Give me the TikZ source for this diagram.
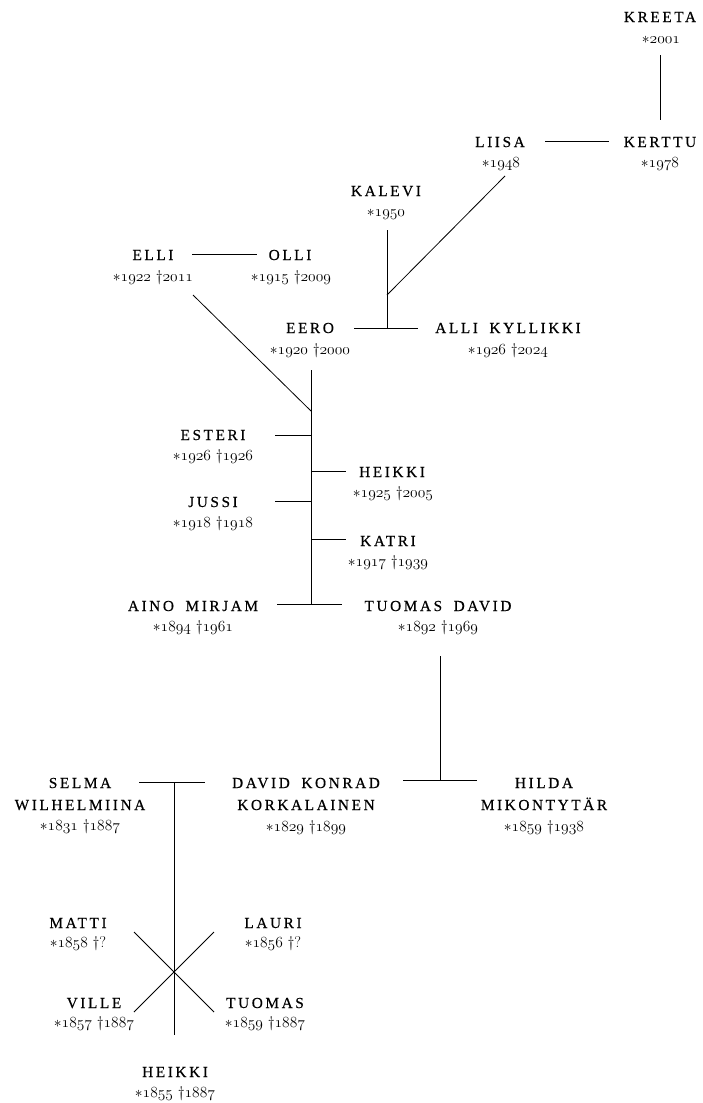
\RequirePackage{fix-cm}
\documentclass[tikz,border=0pt]{standalone}
\usepackage{fontspec}
\newfontfamily\namefam[LetterSpace=17, WordSpace=1.8, FakeBold=0.35]{Liberation Serif}
\newcommand\namefont{\namefam\fontsize{15.3}{18}\selectfont}
\newcommand\yearfont{\fontsize{15.5}{19}\selectfont}
\newcommand\yrs[2]{$\ast\mathnormal{#1}$\ \textdagger$\mathnormal{#2}$}
\newcommand\yrb[1]{$\ast\mathnormal{#1}$}
\newcommand\yrq[1]{$\ast\mathnormal{#1}$\ \textdagger?}
\tikzset{
  nm/.style={font=\namefont, inner sep=0pt, anchor=base},
  yr/.style={font=\yearfont, inner sep=0pt, anchor=base},
  ln/.style={line width=0.8pt, black}
}
\begin{document}
\begin{tikzpicture}[x=1pt,y=-1pt]
\useasboundingbox (0,0) rectangle (703,1103);
% persons
\node[nm] (kreeta) at (660,22) {KREETA};
\node[yr] (kreetay) at (661,43) {\yrb{2001}};
\node[nm] (liisa) at (500,147) {LIISA};
\node[yr] (liisay) at (501,167) {\yrb{1948}};
\node[nm] (kerttu) at (660,147) {KERTTU};
\node[yr] (kerttuy) at (660,167) {\yrb{1978}};
\node[nm] (kalevi) at (386,196) {KALEVI};
\node[yr] (kaleviy) at (386,216) {\yrb{1950}};
\node[nm] (elli) at (153,260) {ELLI};
\node[yr] (elliy) at (153,281) {\yrs{1922}{2011}};
\node[nm] (olli) at (290,260) {OLLI};
\node[yr] (olliy) at (291,281) {\yrs{1915}{2009}};
\node[nm] (eero) at (310,333) {EERO};
\node[yr] (eeroy) at (310,354) {\yrs{1920}{2000}};
\node[nm] (alli) at (508,333) {ALLI KYLLIKKI};
\node[yr] (alliy) at (508,354) {\yrs{1926}{2024}};
\node[nm] (esteri) at (213,440) {ESTERI};
\node[yr] (esteriy) at (213,460) {\yrs{1926}{1926}};
\node[nm] (heikki) at (392,477) {HEIKKI};
\node[yr] (heikkiy) at (393,497) {\yrs{1925}{2005}};
\node[nm] (jussi) at (213,507) {JUSSI};
\node[yr] (jussiy) at (213,527) {\yrs{1918}{1918}};
\node[nm] (katri) at (388,546) {KATRI};
\node[yr] (katriy) at (388,566) {\yrs{1917}{1939}};
\node[nm] (aino) at (193,611) {AINO MIRJAM};
\node[yr] (ainoy) at (193,631) {\yrs{1894}{1961}};
\node[nm] (tuomasd) at (438,611) {TUOMAS DAVID};
\node[yr] (tuomasdy) at (438,631) {\yrs{1892}{1969}};
\node[nm] (david) at (306,788) {DAVID KONRAD};
\node[nm] (david2) at (306,810) {KORKALAINEN};
\node[yr] (davidy) at (306,831) {\yrs{1829}{1899}};
\node[nm] (hilda) at (544,788) {HILDA};
\node[nm] (hilda2) at (544,810) {MIKONTYTÄR};
\node[yr] (hilday) at (544,831) {\yrs{1859}{1938}};
\node[nm] (selma) at (80,788) {SELMA};
\node[nm] (selma2) at (80,810) {WILHELMIINA};
\node[yr] (selmay) at (80,830) {\yrs{1831}{1887}};
\node[nm] (matti) at (78,928) {MATTI};
\node[yr] (mattiy) at (78,947) {\yrq{1858}};
\node[nm] (lauri) at (273,928) {LAURI};
\node[yr] (lauriy) at (273,947) {\yrq{1856}};
\node[nm] (ville) at (94,1008) {VILLE};
\node[yr] (villey) at (94,1027) {\yrs{1857}{1887}};
\node[nm] (tuomas) at (265,1008) {TUOMAS};
\node[yr] (tuomasy) at (265,1027) {\yrs{1859}{1887}};
\node[nm] (heikkib) at (175,1077) {HEIKKI};
\node[yr] (heikkiby) at (175,1097) {\yrs{1855}{1887}};
% connector points
\coordinate (kA) at (660,55);   \coordinate (kB) at (660,120);
\coordinate (lkA) at (545,141); \coordinate (lkB) at (609,141);
\coordinate (ldA) at (505,176); \coordinate (ldB) at (387,295);
\coordinate (kvA) at (387,230); \coordinate (kvB) at (387,328);
\coordinate (eaA) at (354,328); \coordinate (eaB) at (418,328);
\coordinate (eoA) at (192,254); \coordinate (eoB) at (257,254);
\coordinate (edA) at (193,295); \coordinate (edB) at (311,411);
\coordinate (vA) at (311,370);  \coordinate (vB) at (311,604);
\coordinate (esA) at (275,435); \coordinate (esB) at (311,435);
\coordinate (heA) at (311,471); \coordinate (heB) at (346,471);
\coordinate (juA) at (275,501); \coordinate (juB) at (311,501);
\coordinate (kaA) at (311,539); \coordinate (kaB) at (346,539);
\coordinate (atA) at (277,604); \coordinate (atB) at (342,604);
\coordinate (tdA) at (440,656); \coordinate (tdB) at (440,780);
\coordinate (dhA) at (403,780); \coordinate (dhB) at (477,780);
\coordinate (sdA) at (139,782); \coordinate (sdB) at (205,782);
\coordinate (svA) at (174,782); \coordinate (svB) at (174,1035);
\coordinate (x1A) at (134,932); \coordinate (x1B) at (214,1012);
\coordinate (x2A) at (214,932); \coordinate (x2B) at (134,1012);
% connectors
\draw[ln] (kA) -- (kB);
\draw[ln] (lkA) -- (lkB);
\draw[ln] (ldA) -- (ldB);
\draw[ln] (kvA) -- (kvB);
\draw[ln] (eaA) -- (eaB);
\draw[ln] (eoA) -- (eoB);
\draw[ln] (edA) -- (edB);
\draw[ln] (vA) -- (vB);
\draw[ln] (esA) -- (esB);
\draw[ln] (heA) -- (heB);
\draw[ln] (juA) -- (juB);
\draw[ln] (kaA) -- (kaB);
\draw[ln] (atA) -- (atB);
\draw[ln] (tdA) -- (tdB);
\draw[ln] (dhA) -- (dhB);
\draw[ln] (sdA) -- (sdB);
\draw[ln] (svA) -- (svB);
\draw[ln] (x1A) -- (x1B);
\draw[ln] (x2A) -- (x2B);
\end{tikzpicture}
\end{document}
